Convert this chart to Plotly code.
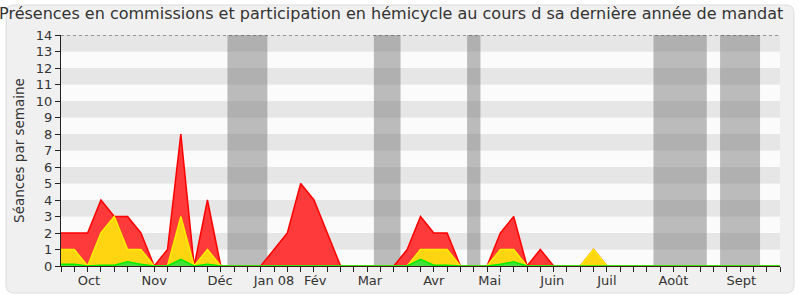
import plotly.graph_objects as go

# Week indices (one point per week, from late September 2007)
weeks = list(range(55))

# Total presences (red)
presences = [2, 2, 2, 4, 3, 3, 2, 0, 1, 8, 0, 4, 0, 0, 0, 0, 1, 2, 5, 4,
             2, 0, 0, 0, 0, 0, 1, 3, 2, 2, 0, 0, 0, 2, 3, 0, 1, 0, 0, 0,
             1, 0, 0, 0, 0, 0, 0, 0, 0, 0, 0, 0, 0, 0, 0]
# Commission presences (yellow)
commissions = [1, 1, 0, 2, 3, 1, 1, 0, 0, 3, 0, 1, 0, 0, 0, 0, 0, 0, 0, 0,
               0, 0, 0, 0, 0, 0, 0, 1, 1, 1, 0, 0, 0, 1, 1, 0, 0, 0, 0, 0,
               1, 0, 0, 0, 0, 0, 0, 0, 0, 0, 0, 0, 0, 0, 0]
# Interventions (green)
interventions = [0.1, 0.1, 0, 0.05, 0.05, 0.25, 0.1, 0, 0, 0.4, 0, 0.1, 0, 0, 0, 0, 0, 0, 0, 0,
                 0, 0, 0, 0, 0, 0, 0, 0.4, 0.05, 0.05, 0, 0, 0, 0.1, 0.25, 0, 0, 0, 0, 0,
                 0, 0, 0, 0, 0, 0, 0, 0, 0, 0, 0, 0, 0, 0, 0]
# Questions (blue bar)
question_weeks = [29]
question_values = [0.85]

# Parliamentary holiday weeks (first, last)
vacances = [(13, 15), (24, 25), (31, 31), (45, 48), (50, 52)]

# Month labels
month_pos = [2.1, 7.0, 11.95, 16.0, 19.1, 23.2, 28.0, 32.2, 36.9, 41.0, 46.0, 51.1]
month_labels = ["Oct", "Nov", "Déc", "Jan 08", "Fév", "Mar", "Avr", "Mai", "Juin", "Juil", "Août", "Sept"]

FONT = "DejaVu Sans"
W, H = 800, 300
L, R, T, B = 61, 20, 35, 34

fig = go.Figure()

fig.add_trace(go.Scatter(x=weeks, y=presences, mode="lines",
                         line=dict(color="#ff0000", width=1.5),
                         fill="tozeroy", fillcolor="#ff3a3a", hoverinfo="skip"))
fig.add_trace(go.Scatter(x=weeks, y=commissions, mode="lines",
                         line=dict(color="#ffee00", width=1.5),
                         fill="tozeroy", fillcolor="#ffd411", hoverinfo="skip"))
fig.add_trace(go.Scatter(x=weeks, y=interventions, mode="lines",
                         line=dict(color="#00ee00", width=1.5),
                         fill="tozeroy", fillcolor="#44e03a", hoverinfo="skip"))
fig.add_trace(go.Bar(x=question_weeks, y=question_values, width=0.26,
                     marker=dict(color="#2626d8", line=dict(width=0)), hoverinfo="skip"))

shapes = []
# rounded outer frame (paper coordinates)
pw, ph = W - L - R, H - T - B
def px(x):
    return (x - L) / pw
def py(y):
    return (H - B - y) / ph
x0, x1, y0, y1, r = 6, 794, 5, 293, 8
path = (f"M {px(x0 + r)},{py(y0)} L {px(x1 - r)},{py(y0)} "
        f"Q {px(x1)},{py(y0)} {px(x1)},{py(y0 + r)} L {px(x1)},{py(y1 - r)} "
        f"Q {px(x1)},{py(y1)} {px(x1 - r)},{py(y1)} L {px(x0 + r)},{py(y1)} "
        f"Q {px(x0)},{py(y1)} {px(x0)},{py(y1 - r)} L {px(x0)},{py(y0 + r)} "
        f"Q {px(x0)},{py(y0)} {px(x0 + r)},{py(y0)} Z")
shapes.append(dict(type="path", path=path, xref="paper", yref="paper",
                   fillcolor="#f0f0f0", line=dict(color="#dcdcdc", width=1), layer="below"))
# horizontal stripes
for k in range(0, 14):
    shapes.append(dict(type="rect", xref="paper", yref="y", x0=0, x1=1, y0=k, y1=k + 1,
                       fillcolor="#e6e6e6" if k % 2 else "#fbfbfb",
                       line=dict(width=0), layer="below"))
# holiday bands
for a, b in vacances:
    shapes.append(dict(type="rect", xref="x", yref="y", x0=a - 0.5, x1=b + 0.5, y0=0, y1=14,
                       fillcolor="rgba(117,117,117,0.48)", line=dict(width=0), layer="below"))
# dotted top line
shapes.append(dict(type="line", xref="paper", yref="y", x0=0, x1=1, y0=14, y1=14,
                   line=dict(color="#444444", width=1, dash="dot")))

fig.update_layout(
    width=W, height=H,
    margin=dict(l=L, r=R, t=T, b=B),
    paper_bgcolor="#ffffff",
    plot_bgcolor="#fbfbfb",
    showlegend=False,
    bargap=0,
    font=dict(family=FONT, size=13, color="#333333"),
    title=dict(text="Présences en commissions et participation en hémicycle au cours d sa dernière année de mandat",
               x=0.489, xanchor="center", y=0.955, yanchor="middle",
               font=dict(family=FONT, size=16, color="#333333")),
    shapes=shapes,
    xaxis=dict(range=[0, 54], tickmode="array", tickvals=month_pos, ticktext=month_labels,
               ticks="outside", ticklen=2, tickcolor="rgba(0,0,0,0)",
               showgrid=False, zeroline=False, showline=True, linecolor="#3a1a1a", linewidth=1,
               minor=dict(tickmode="array", tickvals=weeks, ticks="outside", ticklen=5,
                          tickcolor="#222222", showgrid=False),
               tickfont=dict(family=FONT, size=13, color="#333333")),
    yaxis=dict(range=[0, 14], tickmode="linear", tick0=0, dtick=1,
               ticks="outside", ticklen=5, tickcolor="#222222",
               showgrid=False, zeroline=False, showline=True, linecolor="#222222", linewidth=1,
               title=dict(text="Séances par semaine", font=dict(family=FONT, size=13.5, color="#333333"),
                          standoff=8),
               tickfont=dict(family=FONT, size=13, color="#333333")),
)

fig.write_html("out.html")
